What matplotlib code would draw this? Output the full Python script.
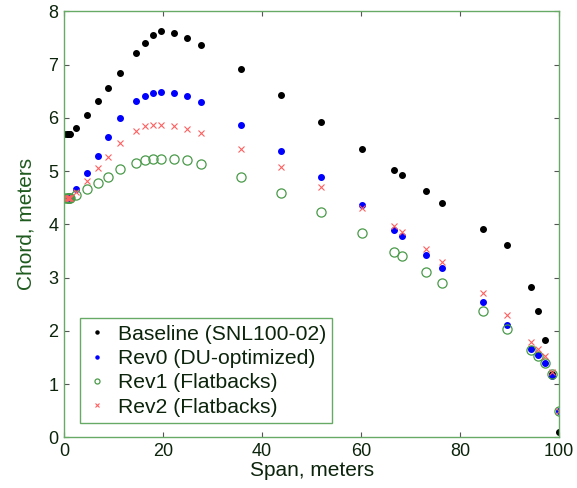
import numpy as np
import matplotlib
matplotlib.use("Agg")
import matplotlib.pyplot as plt

plt.rcParams['font.family'] = ['Liberation Sans', 'DejaVu Sans']

# span stations, meters
span = [0, 0.5, 0.7, 0.9, 1.1, 1.3, 2.4, 4.6, 6.8, 8.9, 11.4, 14.5, 16.3, 17.9,
        19.5, 22.2, 24.9, 27.6, 35.8, 43.9, 52.0, 60.2, 66.7, 68.3, 73.2, 76.4,
        84.6, 89.4, 94.3, 95.7, 97.2, 98.6, 100]

baseline = [5.69, 5.69, 5.69, 5.69, 5.69, 5.69, 5.80, 6.06, 6.31, 6.55, 6.84,
            7.22, 7.40, 7.55, 7.63, 7.59, 7.49, 7.36, 6.92, 6.43, 5.92, 5.41,
            5.02, 4.92, 4.62, 4.41, 3.92, 3.62, 2.82, 2.37, 1.83, 1.20, 0.10]
rev0 = [4.50, 4.50, 4.50, 4.50, 4.50, 4.50, 4.67, 4.96, 5.29, 5.64, 5.99,
        6.31, 6.40, 6.46, 6.48, 6.46, 6.40, 6.29, 5.86, 5.38, 4.89, 4.36,
        3.90, 3.79, 3.42, 3.18, 2.54, 2.11, 1.67, 1.54, 1.39, 1.16, 0.49]
rev1 = [4.50, 4.50, 4.50, 4.50, 4.50, 4.50, 4.56, 4.67, 4.78, 4.89, 5.03,
        5.16, 5.21, 5.22, 5.23, 5.23, 5.21, 5.14, 4.89, 4.59, 4.23, 3.83,
        3.49, 3.41, 3.10, 2.90, 2.37, 2.03, 1.65, 1.53, 1.39, 1.19, 0.49]
rev2 = [4.50, 4.50, 4.50, 4.50, 4.50, 4.50, 4.60, 4.81, 5.06, 5.27, 5.53,
        5.75, 5.84, 5.86, 5.86, 5.84, 5.79, 5.72, 5.42, 5.08, 4.70, 4.30,
        3.96, 3.85, 3.53, 3.30, 2.72, 2.30, 1.80, 1.67, 1.53, 1.22, 0.49]

labels = ['Baseline (SNL100-02)', 'Rev0 (DU-optimized)',
          'Rev1 (Flatbacks)', 'Rev2 (Flatbacks)']

frame_green = '#66aa66'
text_dark = '#0c240c'

fig = plt.figure(figsize=(5.77, 4.88), dpi=100)
ax = fig.add_axes([0.111, 0.1035, 0.858, 0.8735])

ax.plot(span, baseline, linestyle='none', marker='o', ms=4.0,
        color='black', label=labels[0])
ax.plot(span, rev0, linestyle='none', marker='o', ms=4.0,
        color='#0000ff', label=labels[1])
ax.plot(span, rev1, linestyle='none', marker='o', ms=6.6, mfc='none',
        mec='#4a9a4a', mew=0.9, label=labels[2])
ax.plot(span, rev2, linestyle='none', marker='x', ms=4.8,
        color='#ff6060', mew=0.8, label=labels[3])

ax.set_xlim(0, 100)
ax.set_ylim(0, 8)
ax.set_xticks([0, 20, 40, 60, 80, 100])
ax.set_yticks(range(0, 9))
ax.tick_params(direction='in', length=3.5, width=0.8, color='#555555',
               labelsize=13, labelcolor=text_dark, top=True, right=True, pad=4)
for s in ax.spines.values():
    s.set_color(frame_green)
    s.set_linewidth(1.0)

ax.set_xlabel('Span, meters', fontsize=15, color=text_dark, labelpad=1)
ax.set_ylabel('Chord, meters', fontsize=15, color='#1e5a1e', labelpad=9)

leg = ax.legend(loc='lower left', bbox_to_anchor=(0.032, 0.034),
                borderaxespad=0, fontsize=15.2, fancybox=False, framealpha=1,
                markerscale=0.55, handlelength=1.0, handletextpad=0.5,
                labelspacing=0.25, borderpad=0.3)
leg.get_frame().set_edgecolor(frame_green)
leg.get_frame().set_linewidth(1.0)
for t in leg.get_texts():
    t.set_color(text_dark)

fig.savefig('out.png', dpi=100)
